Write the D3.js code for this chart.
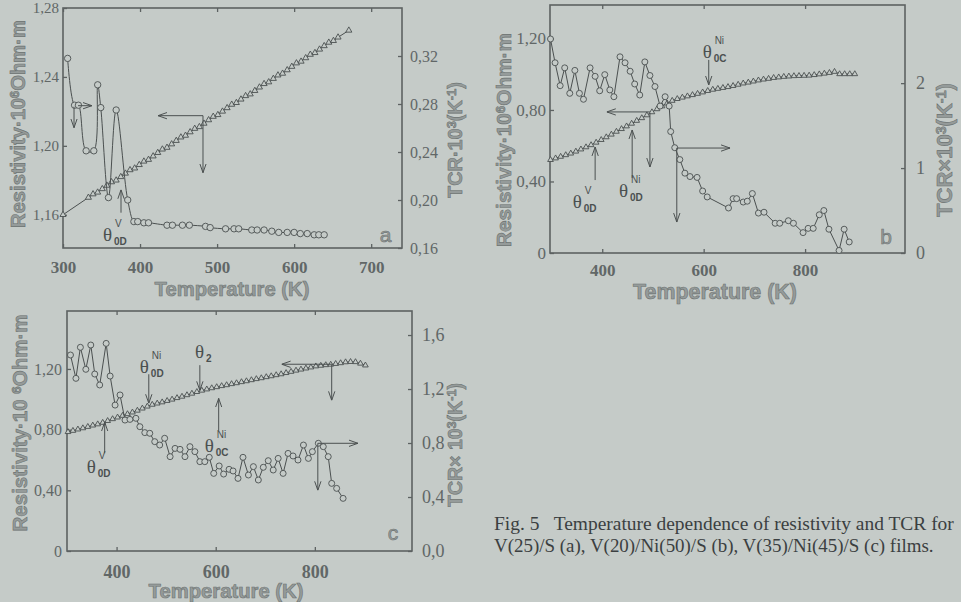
<!DOCTYPE html>
<html>
<head>
<meta charset="utf-8">
<script src="https://cdn.jsdelivr.net/npm/d3@7"></script>
<style>
    body { margin: 0; background: #c5cbc8; }
    svg { display: block; }
</style>
</head>
<body>
<svg id="fig" width="961" height="602"></svg>
<script>
// ---- panel a: V(25)/S ----
const aResT = [300, 333, 339, 345, 351, 357, 363, 369, 375, 381, 387, 393, 399, 405, 411, 417, 423, 429, 435, 441, 447,
    453, 459, 465, 471, 477, 483, 489, 495, 501, 507, 513, 519, 525, 531, 537, 543, 549, 555, 561, 567, 573, 579, 585,
    591, 597, 603, 609, 615, 621, 627, 633, 639, 645, 651, 657, 671];
const aRes = [1.160, 1.170, 1.172, 1.173, 1.175, 1.177, 1.179, 1.180, 1.182, 1.184, 1.186, 1.187, 1.189, 1.191, 1.192,
    1.194, 1.196, 1.198, 1.199, 1.201, 1.203, 1.205, 1.206, 1.208, 1.210, 1.211, 1.213, 1.215, 1.217, 1.218, 1.220,
    1.222, 1.224, 1.225, 1.227, 1.229, 1.230, 1.232, 1.234, 1.236, 1.237, 1.239, 1.241, 1.242, 1.244, 1.246, 1.248,
    1.249, 1.251, 1.253, 1.254, 1.256, 1.258, 1.260, 1.261, 1.263, 1.267];
const aTcrT = [306, 315, 320, 330, 340, 345, 349, 359, 369, 384, 392, 397, 405, 411, 435, 442, 455, 464, 485, 491, 511,
    522, 528, 545, 552, 561, 571, 580, 591, 600, 608, 617, 626, 632, 639];
const aTcr = [0.318, 0.279, 0.279, 0.241, 0.241, 0.296, 0.277, 0.202, 0.275, 0.200, 0.182, 0.182, 0.181, 0.181, 0.179,
    0.179, 0.179, 0.179, 0.178, 0.177, 0.176, 0.176, 0.176, 0.175, 0.175, 0.175, 0.174, 0.173, 0.173, 0.173, 0.172,
    0.172, 0.171, 0.171, 0.171];

// ---- panel b: V(20)/Ni(50)/S ----
const bResT = [298, 308, 318, 328, 338, 348, 358, 368, 378, 388, 398, 408, 418, 428, 438, 448, 458, 468, 478, 488, 498,
    508, 518, 528, 538, 548, 558, 568, 578, 588, 598, 608, 618, 628, 638, 648, 658, 668, 678, 688, 698, 708, 718, 728,
    738, 748, 758, 768, 778, 788, 798, 808, 818, 828, 838, 848, 858, 868, 878, 888, 898];
const bRes = [0.521, 0.530, 0.539, 0.548, 0.557, 0.568, 0.580, 0.592, 0.604, 0.618, 0.633, 0.648, 0.663, 0.679, 0.694,
    0.709, 0.724, 0.740, 0.755, 0.771, 0.788, 0.805, 0.821, 0.837, 0.852, 0.862, 0.870, 0.877, 0.884, 0.891, 0.899,
    0.907, 0.914, 0.919, 0.924, 0.929, 0.935, 0.942, 0.949, 0.954, 0.960, 0.966, 0.971, 0.975, 0.980, 0.983, 0.986,
    0.988, 0.990, 0.991, 0.992, 0.993, 0.996, 1.000, 1.004, 1.008, 1.014, 1.001, 1.001, 1.001, 1.001];
const bTcrT = [298, 307, 317, 326, 336, 346, 355, 363, 376, 386, 395, 405, 415, 423, 435, 445, 455, 464, 474, 484, 494,
    504, 514, 524, 532, 535, 543, 553, 563, 573, 587, 598, 607, 649, 658, 665, 678, 686, 696, 708, 719, 741, 750, 767,
    777, 796, 806, 816, 828, 837, 847, 867, 877, 887];
const bTcr = [2.52, 2.24, 1.97, 2.18, 1.88, 2.15, 1.88, 1.81, 2.18, 2.08, 1.91, 2.10, 1.92, 1.84, 2.31, 2.24, 2.14, 1.99,
    1.86, 2.25, 2.09, 1.96, 1.73, 1.84, 1.73, 1.43, 1.24, 1.10, 0.94, 0.90, 0.89, 0.73, 0.66, 0.53, 0.64, 0.64, 0.60,
    0.61, 0.70, 0.47, 0.48, 0.35, 0.35, 0.38, 0.35, 0.24, 0.29, 0.29, 0.45, 0.50, 0.28, 0.03, 0.28, 0.13];

// ---- panel c: V(35)/Ni(45)/S ----
const cResT = [302, 312, 322, 332, 342, 352, 362, 372, 382, 392, 402, 412, 422, 432, 442, 452, 462, 472, 482, 492, 502,
    512, 522, 532, 542, 552, 562, 572, 582, 592, 602, 612, 622, 632, 642, 652, 662, 672, 682, 692, 702, 712, 722, 732,
    742, 752, 762, 772, 782, 792, 802, 812, 822, 832, 842, 852, 862, 872, 882, 892, 902];
const cRes = [0.785, 0.793, 0.802, 0.810, 0.819, 0.828, 0.836, 0.846, 0.858, 0.870, 0.881, 0.892, 0.903, 0.914, 0.926,
    0.940, 0.953, 0.965, 0.973, 0.981, 0.990, 0.999, 1.009, 1.018, 1.028, 1.038, 1.049, 1.058, 1.066, 1.074, 1.081,
    1.088, 1.094, 1.101, 1.107, 1.114, 1.120, 1.127, 1.134, 1.140, 1.147, 1.153, 1.160, 1.166, 1.174, 1.182, 1.190,
    1.197, 1.204, 1.211, 1.218, 1.222, 1.226, 1.229, 1.234, 1.239, 1.245, 1.247, 1.246, 1.236, 1.224];
const cTcrT = [307, 318, 327, 338, 348, 356, 366, 379, 387, 397, 407, 417, 427, 439, 447, 457, 467, 477, 487, 497, 508,
    518, 528, 538, 548, 558, 568, 578, 587, 596, 607, 616, 627, 635, 645, 655, 666, 676, 686, 696, 706, 716, 726, 736,
    746, 756, 766, 777, 787, 795, 807, 817, 827, 834, 844, 857];
const cTcr = [1.452, 1.279, 1.509, 1.346, 1.526, 1.311, 1.230, 1.538, 1.296, 1.081, 1.156, 0.970, 0.975, 0.983, 0.921,
    0.877, 0.872, 0.810, 0.785, 0.835, 0.699, 0.760, 0.753, 0.699, 0.773, 0.736, 0.662, 0.662, 0.694, 0.575, 0.630,
    0.570, 0.605, 0.593, 0.538, 0.694, 0.563, 0.625, 0.526, 0.620, 0.669, 0.600, 0.686, 0.575, 0.723, 0.704, 0.674,
    0.785, 0.686, 0.736, 0.798, 0.773, 0.699, 0.501, 0.464, 0.390];

const caption = [
    'Fig. 5   Temperature dependence of resistivity and TCR for',
    'V(25)/S (a), V(20)/Ni(50)/S (b), V(35)/Ni(45)/S (c) films.'
];

const colors = {
    bg: '#c5cbc8',
    frame: '#5d6262',
    line: '#4b5050',
    tickText: '#616767',
    titleFill: '#959b9a',
    titleStroke: '#6c7271',
    note: '#4b5050',
    caption: '#3b3f41'
};

const comma = (f) => (d) => d === 0 && f === '.2f' ? '0' : d3.format(f)(d).replace('.', ',');

const resTitle = [{t: 'Resistivity·10'}, {t: '6', sup: true}, {t: 'Ohm·m'}];
const resTitleC = [{t: 'Resistivity·10 '}, {t: '6', sup: true}, {t: 'Ohm·m'}];
const tcrTitle = (sep) => [{t: 'TCR' + sep + '10'}, {t: '3', sup: true}, {t: '(K'}, {t: '-1', sup: true}, {t: ')'}];

const panels = [{
    letter: 'a',
    box: {x0: 63, x1: 402, y0: 8, y1: 248},
    xDomain: [300, 740], leftDomain: [1.1407, 1.28], rightDomain: [0.16, 0.36],
    xTicks: [300, 400, 500, 600, 700], leftTicks: [1.16, 1.20, 1.24, 1.28], rightTicks: [0.16, 0.20, 0.24, 0.28, 0.32],
    leftFmt: comma('.2f'), rightFmt: comma('.2f'),
    pad: {left: 4, right: 8, bottom: 13}, fs: {left: 15, right: 16, bottom: 17},
    res: {t: aResT, v: aRes}, tcr: {t: aTcrT, v: aTcr}, smooth: true, triSize: 16, circR: 3.2,
    titles: {
        left: {parts: resTitle, x: 25, c: 124, len: 208},
        right: {parts: tcrTitle('·'), x: 462, c: 140, len: 116},
        bottom: {x: 232, y: 296, len: 155}
    },
    letterPos: [711, 1.1443],
    arrows: [[319.5, 1.2233, 337.6, 1.2233], [314.3, 1.2227, 314.3, 1.2105], [481.7, 1.2175, 423.3, 1.2175],
        [481.7, 1.2175, 481.7, 1.1844], [375.3, 1.1612, 375.3, 1.1745]],
    thetas: [{t: 352, v: 1.1449, sub: '0D', sup: 'V'}]
}, {
    letter: 'b',
    box: {x0: 550, x1: 905, y0: 5, y1: 253},
    xDomain: [297, 997], leftDomain: [0, 1.387], rightDomain: [0, 2.92],
    xTicks: [400, 600, 800], leftTicks: [0, 0.4, 0.8, 1.2], rightTicks: [0, 1, 2],
    leftFmt: comma('.2f'), rightFmt: d3.format('d'),
    pad: {left: 4, right: 11, bottom: 11}, fs: {left: 17, right: 18, bottom: 17},
    res: {t: bResT, v: bRes}, tcr: {t: bTcrT, v: bTcr}, smooth: false, triSize: 14, circR: 3,
    titles: {
        left: {parts: resTitle, x: 511, c: 140, len: 214},
        right: {parts: tcrTitle('×'), x: 952, c: 150, len: 134},
        bottom: {x: 715, y: 299, len: 164}
    },
    letterPos: [948, 0.050],
    arrows: [[610, 1.080, 610, 0.940], [494, 0.789, 409, 0.789], [494, 0.783, 494, 0.481],
        [386, 0.408, 386, 0.593], [459, 0.420, 459, 0.688], [547, 0.587, 652, 0.587], [547, 0.587, 547, 0.173]],
    thetas: [{t: 598, v: 1.091, sub: '0C', sup: 'Ni'}, {t: 342, v: 0.252, sub: '0D', sup: 'V'},
        {t: 433, v: 0.313, sub: '0D', sup: 'Ni'}]
}, {
    letter: 'c',
    box: {x0: 67, x1: 412, y0: 311, y1: 551},
    xDomain: [300, 996], leftDomain: [0, 1.582], rightDomain: [0, 1.778],
    xTicks: [400, 600, 800], leftTicks: [0, 0.4, 0.8, 1.2], rightTicks: [0, 0.4, 0.8, 1.2, 1.6],
    leftFmt: comma('.2f'), rightFmt: comma('.1f'),
    pad: {left: 5, right: 10, bottom: 14}, fs: {left: 16, right: 18, bottom: 18},
    res: {t: cResT, v: cRes}, tcr: {t: cTcrT, v: cTcr}, smooth: false, triSize: 14, circR: 3,
    titles: {
        left: {parts: resTitleC, x: 27, c: 423, len: 217},
        right: {parts: tcrTitle('× '), x: 462, c: 445, len: 124},
        bottom: {x: 226, y: 598, len: 155}
    },
    letterPos: [947, 0.071],
    arrows: [[376, 0.644, 376, 0.849], [465, 1.165, 465, 0.974], [568, 1.225, 568, 1.059], [606, 0.796, 606, 1.006],
        [834, 1.231, 733, 1.231], [834, 1.231, 834, 0.993], [806, 0.710, 887, 0.710], [806, 0.710, 806, 0.400]],
    thetas: [{t: 340, v: 0.512, sub: '0D', sup: 'V'}, {t: 447, v: 1.171, sub: '0D', sup: 'Ni'},
        {t: 558, v: 1.270, sub: '2', sup: null}, {t: 578, v: 0.650, sub: '0C', sup: 'Ni'}]
}];

const svg = d3.select('#fig');
svg.append('rect').attr('width', 961).attr('height', 602).attr('fill', colors.bg);

svg.append('defs').append('marker')
    .attr('id', 'head')
    .attr('viewBox', '0 0 10 10')
    .attr('refX', 10).attr('refY', 5)
    .attr('markerUnits', 'userSpaceOnUse')
    .attr('markerWidth', 9).attr('markerHeight', 9)
    .attr('orient', 'auto')
    .append('path')
    .attr('d', 'M0,1.5 L10,5 L0,8.5')
    .attr('fill', 'none')
    .attr('stroke', colors.line)
    .attr('stroke-width', 1.1);

function fitText(sel, len) {
    const n = sel.node().getComputedTextLength();
    const fs = parseFloat(sel.attr('font-size'));
    sel.attr('font-size', fs * len / n);
}

function titleText(g, parts, fs) {
    const t = g.append('text')
        .attr('font-family', '"Liberation Sans", Arial, sans-serif')
        .attr('font-weight', 'bold')
        .attr('font-size', fs)
        .attr('fill', colors.titleFill)
        .attr('stroke', colors.titleStroke)
        .attr('stroke-width', 0.6)
        .attr('text-anchor', 'middle');
    let up = false;
    parts.forEach((p) => {
        const s = t.append('tspan').text(p.t);
        if (p.sup && !up) { s.attr('dy', '-0.45em').attr('font-size', '0.65em'); up = true; }
        else if (!p.sup && up) { s.attr('dy', '0.3em'); up = false; }
        else if (p.sup) { s.attr('font-size', '0.65em'); }
    });
    return t;
}

panels.forEach((p) => {
    const b = p.box;
    const x = d3.scaleLinear().domain(p.xDomain).range([b.x0, b.x1]);
    const yL = d3.scaleLinear().domain(p.leftDomain).range([b.y1, b.y0]);
    const yR = d3.scaleLinear().domain(p.rightDomain).range([b.y1, b.y0]);
    const g = svg.append('g').attr('class', 'panel-' + p.letter);

    /* axes */
    const styleAxis = (sel, fs) => {
        sel.select('.domain').remove();
        sel.selectAll('.tick line').attr('stroke', colors.frame).attr('stroke-width', 1.3);
        sel.selectAll('.tick text')
            .attr('fill', colors.tickText)
            .attr('font-family', '"Liberation Serif", "Times New Roman", serif')
            .attr('font-size', fs);
    };
    g.append('g').attr('transform', `translate(${b.x0},0)`)
        .call(d3.axisLeft(yL).tickValues(p.leftTicks).tickFormat(p.leftFmt)
            .tickSizeInner(-4).tickSizeOuter(0).tickPadding(p.pad.left))
        .call((s) => styleAxis(s, p.fs.left));
    g.append('g').attr('transform', `translate(${b.x1},0)`)
        .call(d3.axisRight(yR).tickValues(p.rightTicks).tickFormat(p.rightFmt)
            .tickSizeInner(-4).tickSizeOuter(0).tickPadding(p.pad.right))
        .call((s) => styleAxis(s, p.fs.right));
    g.append('g').attr('transform', `translate(0,${b.y1})`)
        .call(d3.axisBottom(x).tickValues(p.xTicks).tickFormat(d3.format('d'))
            .tickSizeInner(-4).tickSizeOuter(0).tickPadding(p.pad.bottom))
        .call((s) => styleAxis(s, p.fs.bottom))
        .call((s) => s.selectAll('.tick text').attr('font-weight', 'bold'));
    g.append('g').attr('transform', `translate(0,${b.y0})`)
        .call(d3.axisTop(x).tickValues(p.xTicks).tickFormat('')
            .tickSizeInner(-4).tickSizeOuter(0))
        .call((s) => styleAxis(s, 10));

    g.append('rect')
        .attr('x', b.x0).attr('y', b.y0)
        .attr('width', b.x1 - b.x0).attr('height', b.y1 - b.y0)
        .attr('fill', 'none')
        .attr('stroke', colors.frame)
        .attr('stroke-width', 1.6);

    /* resistivity: triangles on the left axis */
    const resData = p.res.t.map((t, i) => [t, p.res.v[i]]);
    g.append('path')
        .datum(resData)
        .attr('fill', 'none')
        .attr('stroke', colors.line)
        .attr('stroke-width', 1)
        .attr('d', d3.line().x((d) => x(d[0])).y((d) => yL(d[1])));
    g.append('g').selectAll('path')
        .data(resData)
        .join('path')
        .attr('transform', (d) => `translate(${x(d[0])},${yL(d[1])})`)
        .attr('d', d3.symbol(d3.symbolTriangle, p.triSize))
        .attr('fill', colors.bg)
        .attr('stroke', colors.line)
        .attr('stroke-width', 0.9);

    /* TCR: circles on the right axis */
    const tcrData = p.tcr.t.map((t, i) => [t, p.tcr.v[i]]);
    g.append('path')
        .datum(tcrData)
        .attr('fill', 'none')
        .attr('stroke', colors.line)
        .attr('stroke-width', 1)
        .attr('d', d3.line().curve(p.smooth ? d3.curveCatmullRom : d3.curveLinear)
            .x((d) => x(d[0])).y((d) => yR(d[1])));
    g.append('g').selectAll('circle')
        .data(tcrData)
        .join('circle')
        .attr('cx', (d) => x(d[0]))
        .attr('cy', (d) => yR(d[1]))
        .attr('r', p.circR)
        .attr('fill', colors.bg)
        .attr('stroke', colors.line)
        .attr('stroke-width', 0.9);

    /* arrows */
    g.append('g').selectAll('line')
        .data(p.arrows)
        .join('line')
        .attr('x1', (d) => x(d[0])).attr('y1', (d) => yL(d[1]))
        .attr('x2', (d) => x(d[2])).attr('y2', (d) => yL(d[3]))
        .attr('stroke', colors.line)
        .attr('stroke-width', 1)
        .attr('marker-end', 'url(#head)');

    /* theta labels */
    p.thetas.forEach((th) => {
        const tx = x(th.t), ty = yL(th.v);
        g.append('text')
            .attr('x', tx).attr('y', ty)
            .attr('font-family', '"Liberation Serif", serif')
            .attr('font-size', 19)
            .attr('fill', colors.note)
            .text('θ');
        g.append('text')
            .attr('x', tx + 11).attr('y', ty + 4)
            .attr('font-family', '"Liberation Sans", sans-serif')
            .attr('font-weight', 'bold')
            .attr('font-size', 10)
            .attr('fill', colors.note)
            .text(th.sub);
        if (th.sup) {
            g.append('text')
                .attr('x', tx + 12).attr('y', ty - 14)
                .attr('font-family', '"Liberation Sans", sans-serif')
                .attr('font-size', 10)
                .attr('fill', colors.note)
                .text(th.sup);
        }
    });

    /* panel letter */
    g.append('text')
        .attr('x', x(p.letterPos[0])).attr('y', yL(p.letterPos[1]))
        .attr('font-family', '"Liberation Sans", sans-serif')
        .attr('font-size', 21)
        .attr('fill', colors.titleFill)
        .attr('stroke', colors.titleStroke)
        .attr('stroke-width', 0.6)
        .text(p.letter);

    /* axis titles */
    const tl = p.titles.left;
    const lg = g.append('g').attr('transform', `translate(${tl.x},${tl.c}) rotate(-90)`);
    fitText(titleText(lg, tl.parts, 17), tl.len);
    const tr = p.titles.right;
    const rg = g.append('g').attr('transform', `translate(${tr.x},${tr.c}) rotate(-90)`);
    fitText(titleText(rg, tr.parts, 17), tr.len);
    const tb = p.titles.bottom;
    const bg = g.append('g').attr('transform', `translate(${tb.x},${tb.y})`);
    fitText(titleText(bg, [{t: 'Temperature (K)'}], 18), tb.len);
});

/* caption */
const capLens = [460, 440];
svg.append('g').selectAll('text')
    .data(caption)
    .join('text')
    .attr('x', 494)
    .attr('y', (d, i) => 530 + i * 22)
    .attr('font-family', '"Liberation Serif", "Times New Roman", serif')
    .attr('font-size', 19)
    .attr('fill', colors.caption)
    .attr('xml:space', 'preserve')
    .style('white-space', 'pre')
    .text((d) => d)
    .each(function (d, i) { fitText(d3.select(this), capLens[i]); });
</script>
</body>
</html>
